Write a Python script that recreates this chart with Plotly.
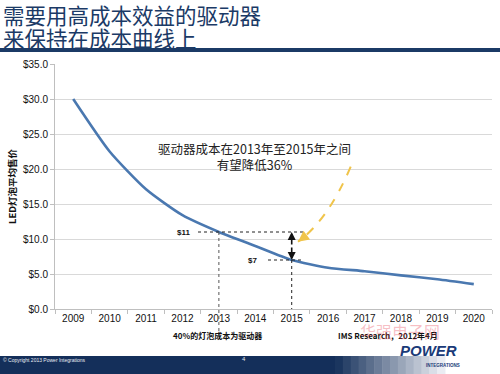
import plotly.graph_objects as go

# ---------------- data ----------------
years = ['2009', '2010', '2011', '2012', '2013', '2014', '2015', '2016', '2017', '2018', '2019', '2020']
price = [30.0, 22.5, 17.1, 13.4, 11.0, 9.0, 7.0, 5.9, 5.4, 4.8, 4.25, 3.55]
y_ticks = [0, 5, 10, 15, 20, 25, 30, 35]
y_tick_text = ['$%.1f' % v for v in y_ticks]

title_lines = ['需要用高成本效益的驱动器', '来保持在成本曲线上']
y_title = 'LED灯泡平均售价'
note_text = '驱动器成本在2013年至2015年之间<br>有望降低36%'
label_hi = '$11'
label_lo = '$7'
hi_year, lo_year = '2013', '2015'
foot_left = '40%的灯泡成本为驱动器'
foot_right = 'IMS Research，2012年4月'

# ---------------- geometry ----------------
W, H = 500, 374
ML, MR, MT, MB = 55, 8, 64, 65
PW, PH = W - ML - MR, H - MT - MB
YMAX = 35


def px(x):
    return (x - ML) / PW


def py(y):
    return (H - MB - y) / PH


def cat_paper(i):
    return (i + 0.5) / len(years)


def cat_idx(xpix):
    return (xpix - ML) / PW * len(years) - 0.5


i_hi = years.index(hi_year)
i_lo = years.index(lo_year)
v_hi = price[i_hi]
v_lo = price[i_lo]

CJK = 'Noto Sans CJK SC, Liberation Sans, Arial, sans-serif'
SANS = 'Liberation Sans, Arial, Noto Sans CJK SC, sans-serif'
NAVY = '#1b3a66'
LINE = '#4a78b0'
GOLD = '#f0c44a'

fig = go.Figure()
fig.add_trace(go.Scatter(
    x=years, y=price, mode='lines',
    line=dict(color=LINE, width=2.6, shape='spline', smoothing=0.6),
    hoverinfo='x+y', showlegend=False,
))

shapes = []
annotations = []

# title bar
shapes.append(dict(type='rect', xref='paper', yref='paper', x0=px(0), x1=px(W), y0=py(52), y1=py(48),
                   fillcolor=NAVY, line=dict(width=0), layer='above'))

# bottom band with fade to the right
band_y0, band_y1 = py(374), py(356)
shapes.append(dict(type='rect', xref='paper', yref='paper', x0=px(0), x1=px(335), y0=band_y0, y1=band_y1,
                   fillcolor='#142f5a', line=dict(width=0)))
steps = 14
for k in range(steps):
    xa = 335 + k * (110 / steps)
    xb = 335 + (k + 1) * (110 / steps) + 0.5
    t = (k + 0.5) / steps
    r = int(0x14 + t * (0xf2 - 0x14))
    g = int(0x2f + t * (0xf4 - 0x2f))
    b = int(0x5a + t * (0xf8 - 0x5a))
    shapes.append(dict(type='rect', xref='paper', yref='paper', x0=px(xa), x1=px(xb), y0=band_y0, y1=band_y1,
                       fillcolor='rgb(%d,%d,%d)' % (r, g, b), line=dict(width=0)))

# dotted guide lines
shapes.append(dict(type='line', xref='x', yref='y', x0=cat_idx(198), x1=cat_idx(304),
                   y0=v_hi, y1=v_hi, line=dict(color='#222', width=1, dash='dot')))
shapes.append(dict(type='line', xref='x', yref='y', x0=cat_idx(268), x1=cat_idx(304),
                   y0=v_lo, y1=v_lo, line=dict(color='#222', width=1, dash='dot')))
shapes.append(dict(type='line', xref='paper', yref='paper', x0=cat_paper(i_hi), x1=cat_paper(i_hi),
                   y0=v_hi / YMAX, y1=py(338), line=dict(color='#555', width=1, dash='dot')))
shapes.append(dict(type='line', xref='paper', yref='paper', x0=cat_paper(i_lo), x1=cat_paper(i_lo),
                   y0=v_lo / YMAX, y1=0, line=dict(color='#222', width=1, dash='dot')))

# yellow dashed curved arrow (paper coords)
S = (px(350.7), py(166.7))
C = (px(328), py(220))
E = (px(298), py(241.7))
shapes.append(dict(type='path', xref='paper', yref='paper',
                   path='M %.4f %.4f Q %.4f %.4f %.4f %.4f' % (S[0], S[1], C[0], C[1], E[0], E[1]),
                   line=dict(color=GOLD, width=2, dash='dash')))
annotations.append(dict(xref='paper', yref='paper', x=E[0], y=E[1], ax=8, ay=-6, showarrow=True,
                        arrowhead=2, arrowsize=1.1, arrowwidth=2, arrowcolor=GOLD, text='', standoff=0))

# double-headed arrow between $11 and $7
mid = (v_hi + v_lo) / 2
for tip in (v_hi, v_lo):
    annotations.append(dict(xref='x', yref='y', axref='x', ayref='y', x=i_lo, y=tip, ax=i_lo, ay=mid,
                            showarrow=True, arrowhead=2, arrowsize=1, arrowwidth=1.6, arrowcolor='#111',
                            text='', standoff=0, startstandoff=0))

annotations.append(dict(xref='x', yref='y', x=cat_idx(192), y=v_hi, text='<b>%s</b>' % label_hi, showarrow=False,
                        xanchor='right', font=dict(family=SANS, size=8, color='#111')))
annotations.append(dict(xref='x', yref='y', x=cat_idx(259), y=v_lo, text='<b>%s</b>' % label_lo, showarrow=False,
                        xanchor='right', font=dict(family=SANS, size=8, color='#111')))

annotations.append(dict(xref='paper', yref='paper', x=px(353), y=py(137), text=note_text, showarrow=False,
                        align='center', font=dict(family=CJK, size=12.5, color='#222')))

# titles
annotations.append(dict(xref='paper', yref='paper', x=px(1), y=py(14), text=title_lines[0], showarrow=False,
                        xanchor='left', yanchor='middle', font=dict(family=CJK, size=21.5, color=NAVY)))
annotations.append(dict(xref='paper', yref='paper', x=px(1), y=py(37), text=title_lines[1], showarrow=False,
                        xanchor='left', yanchor='middle', font=dict(family=CJK, size=21.5, color=NAVY)))

# footnotes
annotations.append(dict(xref='paper', yref='paper', x=px(217), y=py(343), text='<b>%s</b>' % foot_left,
                        showarrow=False, font=dict(family=CJK, size=8, color='#111')))
annotations.append(dict(xref='paper', yref='paper', x=px(440), y=py(343), text='<b>%s</b>' % foot_right,
                        showarrow=False, font=dict(family=CJK, size=8, color='#111')))

# watermark (faint)
annotations.append(dict(xref='paper', yref='paper', x=px(442), y=py(345), text='华强电子网',
                        showarrow=False, font=dict(family=CJK, size=16, color='rgba(232,70,85,0.35)')))

# slide footer
annotations.append(dict(xref='paper', yref='paper', x=px(1), y=py(365), text='© Copyright 2013 Power Integrations',
                        showarrow=False, xanchor='left', font=dict(family=SANS, size=5, color='#e8ecf2')))
annotations.append(dict(xref='paper', yref='paper', x=px(244), y=py(364), text='4',
                        showarrow=False, font=dict(family=SANS, size=6, color='#e8ecf2')))
annotations.append(dict(xref='paper', yref='paper', x=px(459), y=py(361), text='<b><i>POWER</i></b>',
                        showarrow=False, font=dict(family=SANS, size=15, color='#1a3a78')))
annotations.append(dict(xref='paper', yref='paper', x=px(462), y=py(369.5), text='<b>INTEGRATIONS</b>',
                        showarrow=False, font=dict(family=SANS, size=4.5, color='#1a3a78')))

fig.update_layout(
    width=W, height=H,
    margin=dict(l=ML, r=MR, t=MT, b=MB, autoexpand=False),
    paper_bgcolor='white', plot_bgcolor='white',
    shapes=shapes, annotations=annotations,
    xaxis=dict(type='category', categoryarray=years, range=[-0.5, len(years) - 0.5],
               tickson='boundaries', ticks='outside', ticklen=4, tickcolor='#bfbfbf',
               showline=True, linecolor='#bfbfbf', linewidth=1, showgrid=False, automargin=False,
               tickfont=dict(family=SANS, size=10, color='#111'), fixedrange=True),
    yaxis=dict(range=[0, YMAX], tickvals=y_ticks, ticktext=y_tick_text, automargin=False,
               ticks='outside', ticklen=4, tickcolor='#bfbfbf',
               showline=True, linecolor='#bfbfbf', linewidth=1,
               showgrid=True, gridcolor='#d9d9d9', gridwidth=1, zeroline=False,
               tickfont=dict(family=SANS, size=10, color='#111'),
               title=dict(text='<b>%s</b>' % y_title, standoff=4,
                          font=dict(family=CJK, size=9.5, color='#111')), fixedrange=True),
)

fig.write_html('out.html', config={'displayModeBar': False},
               post_script="document.body.style.margin='0';")
